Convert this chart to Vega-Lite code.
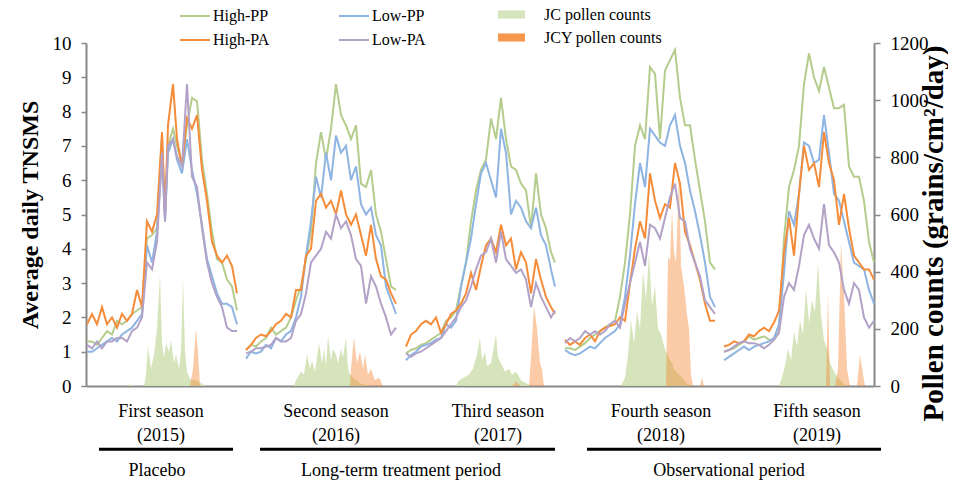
{
"$schema":"https://vega.github.io/schema/vega-lite/v6.json",
"background":"white",
"padding":{"left":18,"top":0,"right":0,"bottom":0},
"bounds":"flush",
"config":{"font":"Liberation Serif","view":{"stroke":null},"concat":{"spacing":0},"axis":{"grid":false,"labelColor":"black","titleColor":"black","labelFont":"Liberation Serif","titleFont":"Liberation Serif"},"legend":{"labelFont":"Liberation Serif","labelColor":"black"}},
"datasets":{
"tnsms":[
{"s":1,"t":1,"High-PP":1.3,"Low-PP":1.0,"High-PA":1.8,"Low-PA":1.2},
{"s":1,"t":6,"High-PP":1.3,"Low-PP":1.0,"High-PA":2.1,"Low-PA":1.1},
{"s":1,"t":11,"High-PP":1.2,"Low-PP":1.1,"High-PA":1.8,"Low-PA":1.3},
{"s":1,"t":16,"High-PP":1.4,"Low-PP":1.2,"High-PA":2.3,"Low-PA":1.1},
{"s":1,"t":21,"High-PP":1.6,"Low-PP":1.3,"High-PA":1.8,"Low-PA":1.3},
{"s":1,"t":26,"High-PP":1.5,"Low-PP":1.4,"High-PA":2.0,"Low-PA":1.3},
{"s":1,"t":31,"High-PP":1.9,"Low-PP":1.3,"High-PA":1.7,"Low-PA":1.4},
{"s":1,"t":36,"High-PP":1.8,"Low-PP":1.5,"High-PA":2.1,"Low-PA":1.4},
{"s":1,"t":41,"High-PP":1.9,"Low-PP":1.6,"High-PA":1.9,"Low-PA":1.3},
{"s":1,"t":46,"High-PP":2.1,"Low-PP":1.7,"High-PA":2.1,"Low-PA":1.6},
{"s":1,"t":51,"High-PP":2.2,"Low-PP":1.9,"High-PA":2.8,"Low-PA":1.7},
{"s":1,"t":56,"High-PP":2.3,"Low-PP":2.1,"High-PA":2.3,"Low-PA":2.0},
{"s":1,"t":61,"High-PP":4.3,"Low-PP":4.1,"High-PA":4.8,"Low-PA":3.6},
{"s":1,"t":66,"High-PP":4.4,"Low-PP":3.6,"High-PA":4.5,"Low-PA":3.4},
{"s":1,"t":71,"High-PP":4.6,"Low-PP":4.5,"High-PA":5.0,"Low-PA":4.2},
{"s":1,"t":76,"High-PP":7.3,"Low-PP":6.7,"High-PA":7.4,"Low-PA":6.8},
{"s":1,"t":79,"High-PP":5.0,"Low-PP":4.8,"High-PA":5.0,"Low-PA":4.8},
{"s":1,"t":82,"High-PP":7.0,"Low-PP":6.8,"High-PA":7.6,"Low-PA":7.0},
{"s":1,"t":87,"High-PP":7.5,"Low-PP":7.2,"High-PA":8.8,"Low-PA":7.2},
{"s":1,"t":91,"High-PP":7.0,"Low-PP":6.6,"High-PA":7.2,"Low-PA":6.7},
{"s":1,"t":96,"High-PP":6.5,"Low-PP":6.2,"High-PA":6.4,"Low-PA":6.4},
{"s":1,"t":101,"High-PP":7.6,"Low-PP":7.2,"High-PA":7.8,"Low-PA":8.8},
{"s":1,"t":106,"High-PP":8.4,"Low-PP":6.3,"High-PA":7.5,"Low-PA":6.1},
{"s":1,"t":111,"High-PP":8.3,"Low-PP":5.6,"High-PA":7.9,"Low-PA":5.8},
{"s":1,"t":116,"High-PP":6.6,"Low-PP":4.7,"High-PA":6.3,"Low-PA":4.6},
{"s":1,"t":121,"High-PP":5.6,"Low-PP":3.7,"High-PA":5.4,"Low-PA":3.6},
{"s":1,"t":126,"High-PP":4.5,"Low-PP":3.2,"High-PA":4.2,"Low-PA":3.0},
{"s":1,"t":131,"High-PP":3.7,"Low-PP":2.7,"High-PA":3.8,"Low-PA":2.6},
{"s":1,"t":136,"High-PP":3.6,"Low-PP":2.4,"High-PA":3.6,"Low-PA":2.3},
{"s":1,"t":141,"High-PP":3.1,"Low-PP":2.4,"High-PA":3.8,"Low-PA":1.7},
{"s":1,"t":146,"High-PP":2.9,"Low-PP":2.3,"High-PA":3.5,"Low-PA":1.6},
{"s":1,"t":151,"High-PP":2.2,"Low-PP":1.8,"High-PA":2.7,"Low-PA":1.6},
{"s":2,"t":160,"High-PP":1.05,"Low-PP":0.8,"High-PA":1.05,"Low-PA":0.95},
{"s":2,"t":165,"High-PP":1.2,"Low-PP":1.0,"High-PA":1.2,"Low-PA":1.0},
{"s":2,"t":170,"High-PP":1.15,"Low-PP":0.95,"High-PA":1.4,"Low-PA":1.1},
{"s":2,"t":175,"High-PP":1.3,"Low-PP":1.0,"High-PA":1.5,"Low-PA":1.1},
{"s":2,"t":180,"High-PP":1.4,"Low-PP":1.2,"High-PA":1.45,"Low-PA":1.15},
{"s":2,"t":185,"High-PP":1.7,"Low-PP":1.1,"High-PA":1.6,"Low-PA":1.2},
{"s":2,"t":190,"High-PP":1.5,"Low-PP":1.4,"High-PA":1.8,"Low-PA":1.4},
{"s":2,"t":195,"High-PP":1.6,"Low-PP":1.3,"High-PA":1.9,"Low-PA":1.3},
{"s":2,"t":200,"High-PP":1.7,"Low-PP":1.5,"High-PA":2.1,"Low-PA":1.3},
{"s":2,"t":205,"High-PP":2.0,"Low-PP":1.6,"High-PA":2.0,"Low-PA":1.4},
{"s":2,"t":210,"High-PP":2.5,"Low-PP":2.0,"High-PA":2.8,"Low-PA":1.9},
{"s":2,"t":215,"High-PP":2.9,"Low-PP":2.6,"High-PA":2.8,"Low-PA":2.1},
{"s":2,"t":220,"High-PP":3.7,"Low-PP":3.8,"High-PA":3.8,"Low-PA":2.7},
{"s":2,"t":225,"High-PP":4.5,"Low-PP":4.8,"High-PA":4.0,"Low-PA":3.6},
{"s":2,"t":230,"High-PP":6.5,"Low-PP":6.1,"High-PA":5.4,"Low-PA":3.8},
{"s":2,"t":235,"High-PP":7.4,"Low-PP":5.5,"High-PA":5.6,"Low-PA":4.0},
{"s":2,"t":240,"High-PP":6.6,"Low-PP":6.8,"High-PA":5.2,"Low-PA":4.5},
{"s":2,"t":245,"High-PP":7.5,"Low-PP":6.0,"High-PA":5.4,"Low-PA":4.3},
{"s":2,"t":250,"High-PP":8.8,"Low-PP":7.3,"High-PA":5.0,"Low-PA":5.0},
{"s":2,"t":255,"High-PP":7.9,"Low-PP":6.8,"High-PA":5.7,"Low-PA":4.6},
{"s":2,"t":260,"High-PP":7.6,"Low-PP":7.0,"High-PA":5.0,"Low-PA":4.8},
{"s":2,"t":265,"High-PP":7.2,"Low-PP":6.0,"High-PA":4.7,"Low-PA":4.4},
{"s":2,"t":270,"High-PP":7.6,"Low-PP":6.4,"High-PA":5.0,"Low-PA":3.7},
{"s":2,"t":275,"High-PP":5.9,"Low-PP":5.3,"High-PA":4.4,"Low-PA":3.5},
{"s":2,"t":280,"High-PP":5.8,"Low-PP":5.0,"High-PA":3.8,"Low-PA":2.4},
{"s":2,"t":285,"High-PP":6.3,"Low-PP":5.2,"High-PA":4.7,"Low-PA":3.2},
{"s":2,"t":290,"High-PP":5.0,"Low-PP":4.4,"High-PA":3.7,"Low-PA":2.9},
{"s":2,"t":295,"High-PP":4.5,"Low-PP":4.1,"High-PA":3.2,"Low-PA":2.4},
{"s":2,"t":300,"High-PP":3.7,"Low-PP":2.9,"High-PA":3.1,"Low-PA":2.0},
{"s":2,"t":305,"High-PP":2.9,"Low-PP":2.5,"High-PA":2.7,"Low-PA":1.5},
{"s":2,"t":310,"High-PP":2.8,"Low-PP":2.1,"High-PA":2.4,"Low-PA":1.7},
{"s":3,"t":320,"High-PP":0.95,"Low-PP":0.75,"High-PA":1.15,"Low-PA":0.95},
{"s":3,"t":325,"High-PP":1.05,"Low-PP":0.9,"High-PA":1.5,"Low-PA":0.85},
{"s":3,"t":330,"High-PP":1.1,"Low-PP":1.0,"High-PA":1.6,"Low-PA":0.95},
{"s":3,"t":335,"High-PP":1.2,"Low-PP":1.15,"High-PA":1.8,"Low-PA":1.0},
{"s":3,"t":340,"High-PP":1.25,"Low-PP":1.2,"High-PA":1.9,"Low-PA":1.1},
{"s":3,"t":345,"High-PP":1.35,"Low-PP":1.25,"High-PA":1.8,"Low-PA":1.2},
{"s":3,"t":350,"High-PP":1.45,"Low-PP":1.35,"High-PA":2.0,"Low-PA":1.3},
{"s":3,"t":355,"High-PP":1.55,"Low-PP":1.4,"High-PA":1.55,"Low-PA":1.4},
{"s":3,"t":360,"High-PP":1.9,"Low-PP":1.8,"High-PA":1.8,"Low-PA":1.6},
{"s":3,"t":365,"High-PP":2.0,"Low-PP":1.7,"High-PA":2.1,"Low-PA":1.8},
{"s":3,"t":370,"High-PP":2.2,"Low-PP":1.9,"High-PA":2.2,"Low-PA":2.0},
{"s":3,"t":375,"High-PP":2.9,"Low-PP":2.9,"High-PA":2.4,"Low-PA":2.3},
{"s":3,"t":380,"High-PP":3.6,"Low-PP":3.6,"High-PA":2.7,"Low-PA":2.5},
{"s":3,"t":385,"High-PP":4.8,"Low-PP":4.3,"High-PA":3.3,"Low-PA":2.9},
{"s":3,"t":390,"High-PP":5.7,"Low-PP":5.3,"High-PA":2.8,"Low-PA":3.4},
{"s":3,"t":395,"High-PP":6.3,"Low-PP":6.2,"High-PA":3.5,"Low-PA":3.8},
{"s":3,"t":400,"High-PP":6.6,"Low-PP":6.5,"High-PA":4.1,"Low-PA":3.9},
{"s":3,"t":405,"High-PP":7.8,"Low-PP":6.0,"High-PA":4.3,"Low-PA":4.3},
{"s":3,"t":410,"High-PP":7.2,"Low-PP":5.5,"High-PA":3.9,"Low-PA":3.6},
{"s":3,"t":415,"High-PP":8.4,"Low-PP":7.5,"High-PA":4.7,"Low-PA":4.5},
{"s":3,"t":420,"High-PP":7.2,"Low-PP":6.8,"High-PA":4.1,"Low-PA":3.7},
{"s":3,"t":425,"High-PP":6.4,"Low-PP":5.0,"High-PA":4.3,"Low-PA":3.5},
{"s":3,"t":430,"High-PP":6.3,"Low-PP":5.4,"High-PA":3.4,"Low-PA":3.3},
{"s":3,"t":435,"High-PP":5.9,"Low-PP":5.2,"High-PA":3.9,"Low-PA":3.4},
{"s":3,"t":440,"High-PP":5.7,"Low-PP":4.8,"High-PA":3.6,"Low-PA":3.1},
{"s":3,"t":445,"High-PP":4.6,"Low-PP":4.6,"High-PA":2.7,"Low-PA":2.3},
{"s":3,"t":450,"High-PP":6.2,"Low-PP":5.2,"High-PA":3.7,"Low-PA":3.0},
{"s":3,"t":455,"High-PP":5.0,"Low-PP":4.4,"High-PA":3.1,"Low-PA":2.6},
{"s":3,"t":460,"High-PP":4.6,"Low-PP":4.1,"High-PA":2.6,"Low-PA":2.3},
{"s":3,"t":465,"High-PP":3.9,"Low-PP":3.4,"High-PA":2.3,"Low-PA":2.0},
{"s":3,"t":469,"High-PP":3.6,"Low-PP":2.9,"High-PA":2.1,"Low-PA":2.2},
{"s":4,"t":479,"High-PP":1.1,"Low-PP":1.05,"High-PA":1.35,"Low-PA":1.25},
{"s":4,"t":484,"High-PP":1.1,"Low-PP":0.95,"High-PA":1.2,"Low-PA":1.4},
{"s":4,"t":489,"High-PP":1.05,"Low-PP":0.9,"High-PA":1.3,"Low-PA":1.3},
{"s":4,"t":494,"High-PP":1.15,"Low-PP":0.95,"High-PA":1.2,"Low-PA":1.4},
{"s":4,"t":499,"High-PP":1.25,"Low-PP":1.05,"High-PA":1.4,"Low-PA":1.6},
{"s":4,"t":504,"High-PP":1.4,"Low-PP":1.15,"High-PA":1.5,"Low-PA":1.5},
{"s":4,"t":509,"High-PP":1.5,"Low-PP":1.1,"High-PA":1.3,"Low-PA":1.6},
{"s":4,"t":514,"High-PP":1.6,"Low-PP":1.25,"High-PA":1.6,"Low-PA":1.5},
{"s":4,"t":519,"High-PP":1.7,"Low-PP":1.4,"High-PA":1.7,"Low-PA":1.6},
{"s":4,"t":524,"High-PP":1.8,"Low-PP":1.5,"High-PA":1.75,"Low-PA":1.8},
{"s":4,"t":529,"High-PP":1.9,"Low-PP":1.6,"High-PA":1.8,"Low-PA":1.9},
{"s":4,"t":534,"High-PP":2.6,"Low-PP":1.8,"High-PA":2.0,"Low-PA":1.7},
{"s":4,"t":539,"High-PP":3.6,"Low-PP":2.6,"High-PA":1.9,"Low-PA":2.4},
{"s":4,"t":544,"High-PP":5.0,"Low-PP":3.8,"High-PA":3.0,"Low-PA":3.0},
{"s":4,"t":549,"High-PP":7.0,"Low-PP":5.3,"High-PA":4.0,"Low-PA":3.6},
{"s":4,"t":554,"High-PP":7.6,"Low-PP":6.5,"High-PA":4.8,"Low-PA":4.2},
{"s":4,"t":559,"High-PP":7.2,"Low-PP":5.8,"High-PA":4.3,"Low-PA":3.5},
{"s":4,"t":564,"High-PP":9.3,"Low-PP":7.5,"High-PA":6.2,"Low-PA":4.7},
{"s":4,"t":569,"High-PP":9.1,"Low-PP":7.3,"High-PA":5.4,"Low-PA":4.6},
{"s":4,"t":574,"High-PP":7.2,"Low-PP":7.1,"High-PA":4.9,"Low-PA":4.3},
{"s":4,"t":579,"High-PP":9.2,"Low-PP":7.0,"High-PA":5.3,"Low-PA":4.9},
{"s":4,"t":584,"High-PP":9.5,"Low-PP":7.6,"High-PA":5.2,"Low-PA":5.5},
{"s":4,"t":589,"High-PP":9.8,"Low-PP":7.9,"High-PA":6.5,"Low-PA":5.9},
{"s":4,"t":594,"High-PP":8.4,"Low-PP":7.0,"High-PA":5.9,"Low-PA":4.9},
{"s":4,"t":599,"High-PP":7.6,"Low-PP":6.5,"High-PA":4.5,"Low-PA":4.8},
{"s":4,"t":604,"High-PP":7.6,"Low-PP":5.7,"High-PA":4.1,"Low-PA":4.0},
{"s":4,"t":609,"High-PP":6.6,"Low-PP":5.1,"High-PA":3.6,"Low-PA":3.6},
{"s":4,"t":614,"High-PP":5.7,"Low-PP":4.4,"High-PA":3.1,"Low-PA":3.2},
{"s":4,"t":619,"High-PP":4.8,"Low-PP":3.6,"High-PA":2.4,"Low-PA":2.5},
{"s":4,"t":624,"High-PP":3.6,"Low-PP":2.6,"High-PA":1.9,"Low-PA":2.3},
{"s":4,"t":629,"High-PP":3.4,"Low-PP":2.3,"High-PA":1.9,"Low-PA":2.1},
{"s":5,"t":638,"High-PP":1.0,"Low-PP":0.75,"High-PA":1.15,"Low-PA":1.0},
{"s":5,"t":643,"High-PP":1.05,"Low-PP":0.85,"High-PA":1.2,"Low-PA":1.05},
{"s":5,"t":648,"High-PP":1.1,"Low-PP":0.95,"High-PA":1.3,"Low-PA":1.15},
{"s":5,"t":653,"High-PP":1.2,"Low-PP":1.05,"High-PA":1.25,"Low-PA":1.25},
{"s":5,"t":658,"High-PP":1.3,"Low-PP":1.15,"High-PA":1.3,"Low-PA":1.3},
{"s":5,"t":663,"High-PP":1.45,"Low-PP":1.05,"High-PA":1.5,"Low-PA":1.25},
{"s":5,"t":668,"High-PP":1.35,"Low-PP":1.15,"High-PA":1.45,"Low-PA":1.25},
{"s":5,"t":673,"High-PP":1.4,"Low-PP":1.2,"High-PA":1.6,"Low-PA":1.2},
{"s":5,"t":678,"High-PP":1.45,"Low-PP":1.25,"High-PA":1.7,"Low-PA":1.1},
{"s":5,"t":683,"High-PP":1.35,"Low-PP":1.3,"High-PA":1.6,"Low-PA":1.2},
{"s":5,"t":688,"High-PP":1.35,"Low-PP":1.4,"High-PA":1.85,"Low-PA":1.35},
{"s":5,"t":693,"High-PP":1.6,"Low-PP":1.8,"High-PA":2.2,"Low-PA":1.55},
{"s":5,"t":698,"High-PP":4.3,"Low-PP":3.3,"High-PA":3.9,"Low-PA":2.6},
{"s":5,"t":703,"High-PP":5.8,"Low-PP":5.1,"High-PA":4.9,"Low-PA":3.0},
{"s":5,"t":708,"High-PP":6.3,"Low-PP":4.7,"High-PA":3.8,"Low-PA":2.8},
{"s":5,"t":713,"High-PP":7.0,"Low-PP":5.6,"High-PA":5.6,"Low-PA":3.5},
{"s":5,"t":718,"High-PP":8.8,"Low-PP":7.1,"High-PA":7.0,"Low-PA":4.4},
{"s":5,"t":723,"High-PP":9.7,"Low-PP":7.0,"High-PA":6.3,"Low-PA":4.7},
{"s":5,"t":728,"High-PP":9.0,"Low-PP":6.5,"High-PA":6.5,"Low-PA":4.3},
{"s":5,"t":733,"High-PP":8.6,"Low-PP":6.6,"High-PA":5.8,"Low-PA":4.0},
{"s":5,"t":738,"High-PP":9.3,"Low-PP":7.9,"High-PA":7.4,"Low-PA":5.3},
{"s":5,"t":743,"High-PP":8.7,"Low-PP":6.8,"High-PA":6.5,"Low-PA":4.1},
{"s":5,"t":748,"High-PP":8.1,"Low-PP":5.6,"High-PA":6.0,"Low-PA":3.9},
{"s":5,"t":753,"High-PP":8.1,"Low-PP":5.4,"High-PA":4.7,"Low-PA":3.6},
{"s":5,"t":758,"High-PP":8.2,"Low-PP":4.8,"High-PA":5.6,"Low-PA":2.8},
{"s":5,"t":763,"High-PP":6.4,"Low-PP":4.2,"High-PA":4.6,"Low-PA":2.4},
{"s":5,"t":768,"High-PP":6.1,"Low-PP":3.6,"High-PA":3.8,"Low-PA":3.0},
{"s":5,"t":773,"High-PP":6.1,"Low-PP":3.5,"High-PA":3.6,"Low-PA":2.8},
{"s":5,"t":778,"High-PP":5.4,"Low-PP":3.4,"High-PA":3.4,"Low-PA":2.0},
{"s":5,"t":783,"High-PP":4.2,"Low-PP":2.8,"High-PA":3.4,"Low-PA":1.7},
{"s":5,"t":788,"High-PP":3.6,"Low-PP":2.4,"High-PA":3.1,"Low-PA":1.9}
],
"pollen":[
{"t":0,"jc":0,"jcy":0},{"t":40,"jc":0,"jcy":0},{"t":43,"jc":5,"jcy":0},{"t":50,"jc":0,"jcy":0},{"t":58,"jc":0,"jcy":0},
{"t":60,"jc":40,"jcy":0},{"t":62,"jc":140,"jcy":0},{"t":65,"jc":60,"jcy":0},{"t":68,"jc":110,"jcy":0},{"t":71,"jc":200,"jcy":0},
{"t":74,"jc":390,"jcy":0},{"t":76,"jc":150,"jcy":0},{"t":78,"jc":100,"jcy":0},{"t":80,"jc":150,"jcy":0},{"t":83,"jc":120,"jcy":0},
{"t":85,"jc":160,"jcy":0},{"t":88,"jc":80,"jcy":0},{"t":90,"jc":110,"jcy":0},{"t":93,"jc":60,"jcy":0},{"t":95,"jc":120,"jcy":0},
{"t":97,"jc":380,"jcy":0},{"t":99,"jc":120,"jcy":0},{"t":101,"jc":50,"jcy":0},{"t":104,"jc":25,"jcy":0},{"t":107,"jc":20,"jcy":60},
{"t":110,"jc":20,"jcy":200},{"t":112,"jc":15,"jcy":120},{"t":114,"jc":12,"jcy":0},{"t":120,"jc":0,"jcy":0},
{"t":208,"jc":0,"jcy":0},{"t":210,"jc":20,"jcy":0},{"t":215,"jc":50,"jcy":0},{"t":218,"jc":40,"jcy":0},{"t":221,"jc":110,"jcy":0},
{"t":224,"jc":60,"jcy":0},{"t":226,"jc":90,"jcy":0},{"t":229,"jc":50,"jcy":0},{"t":233,"jc":150,"jcy":0},{"t":236,"jc":80,"jcy":0},
{"t":238,"jc":130,"jcy":0},{"t":240,"jc":70,"jcy":0},{"t":242,"jc":175,"jcy":0},{"t":245,"jc":90,"jcy":0},{"t":247,"jc":130,"jcy":0},
{"t":250,"jc":110,"jcy":0},{"t":252,"jc":80,"jcy":0},{"t":255,"jc":130,"jcy":0},{"t":257,"jc":100,"jcy":0},{"t":260,"jc":170,"jcy":0},
{"t":262,"jc":60,"jcy":0},{"t":264,"jc":40,"jcy":0},{"t":265,"jc":40,"jcy":60},{"t":268,"jc":25,"jcy":170},{"t":271,"jc":20,"jcy":80},
{"t":274,"jc":10,"jcy":120},{"t":277,"jc":5,"jcy":60},{"t":279,"jc":5,"jcy":110},{"t":282,"jc":0,"jcy":40},{"t":285,"jc":0,"jcy":60},
{"t":289,"jc":0,"jcy":20},{"t":293,"jc":0,"jcy":30},{"t":297,"jc":0,"jcy":0},
{"t":370,"jc":0,"jcy":0},{"t":373,"jc":20,"jcy":0},{"t":378,"jc":30,"jcy":0},{"t":383,"jc":40,"jcy":0},{"t":387,"jc":60,"jcy":0},
{"t":391,"jc":110,"jcy":0},{"t":394,"jc":170,"jcy":0},{"t":396,"jc":90,"jcy":0},{"t":399,"jc":120,"jcy":0},{"t":401,"jc":70,"jcy":0},
{"t":405,"jc":80,"jcy":0},{"t":407,"jc":120,"jcy":0},{"t":410,"jc":180,"jcy":0},{"t":412,"jc":100,"jcy":0},{"t":415,"jc":80,"jcy":0},
{"t":419,"jc":50,"jcy":0},{"t":423,"jc":60,"jcy":0},{"t":426,"jc":40,"jcy":0},{"t":430,"jc":50,"jcy":15},{"t":435,"jc":20,"jcy":0},
{"t":440,"jc":10,"jcy":0},{"t":443,"jc":5,"jcy":0},{"t":445,"jc":0,"jcy":100},{"t":448,"jc":0,"jcy":280},{"t":451,"jc":0,"jcy":200},
{"t":454,"jc":0,"jcy":80},{"t":456,"jc":0,"jcy":60},{"t":458,"jc":0,"jcy":0},
{"t":535,"jc":0,"jcy":0},{"t":539,"jc":30,"jcy":0},{"t":542,"jc":110,"jcy":0},{"t":545,"jc":230,"jcy":0},{"t":548,"jc":150,"jcy":0},
{"t":551,"jc":260,"jcy":0},{"t":554,"jc":200,"jcy":0},{"t":557,"jc":400,"jcy":0},{"t":560,"jc":300,"jcy":0},{"t":563,"jc":460,"jcy":0},
{"t":566,"jc":280,"jcy":0},{"t":569,"jc":350,"jcy":0},{"t":572,"jc":200,"jcy":0},{"t":575,"jc":180,"jcy":0},{"t":578,"jc":140,"jcy":0},
{"t":580,"jc":120,"jcy":0},{"t":582,"jc":110,"jcy":450},{"t":584,"jc":90,"jcy":440},{"t":586,"jc":80,"jcy":620},{"t":588,"jc":60,"jcy":470},
{"t":590,"jc":50,"jcy":430},{"t":593,"jc":40,"jcy":750},{"t":595,"jc":35,"jcy":420},{"t":598,"jc":20,"jcy":350},{"t":601,"jc":10,"jcy":250},
{"t":603,"jc":5,"jcy":200},{"t":605,"jc":0,"jcy":40},{"t":607,"jc":0,"jcy":0},{"t":614,"jc":0,"jcy":0},{"t":616,"jc":0,"jcy":30},{"t":618,"jc":0,"jcy":0},
{"t":693,"jc":0,"jcy":0},{"t":696,"jc":30,"jcy":0},{"t":699,"jc":70,"jcy":0},{"t":702,"jc":130,"jcy":0},{"t":705,"jc":90,"jcy":0},
{"t":708,"jc":190,"jcy":0},{"t":711,"jc":140,"jcy":0},{"t":714,"jc":230,"jcy":0},{"t":717,"jc":180,"jcy":0},{"t":720,"jc":340,"jcy":0},
{"t":723,"jc":220,"jcy":0},{"t":726,"jc":300,"jcy":0},{"t":729,"jc":260,"jcy":0},{"t":732,"jc":430,"jcy":0},{"t":735,"jc":250,"jcy":0},
{"t":738,"jc":160,"jcy":0},{"t":740,"jc":140,"jcy":0},{"t":742,"jc":120,"jcy":330},{"t":744,"jc":80,"jcy":0},{"t":749,"jc":45,"jcy":0},
{"t":752,"jc":30,"jcy":60},{"t":755,"jc":20,"jcy":500},{"t":758,"jc":5,"jcy":320},{"t":761,"jc":0,"jcy":60},{"t":764,"jc":0,"jcy":0},
{"t":771,"jc":0,"jcy":0},{"t":774,"jc":0,"jcy":110},{"t":777,"jc":0,"jcy":40},{"t":779,"jc":0,"jcy":0},{"t":788,"jc":0,"jcy":0}
],
"labels":[
{"t":75,"lvl":1.04,"label":"First season"},{"t":75,"lvl":2.04,"label":"(2015)"},
{"t":250,"lvl":1.04,"label":"Second season"},{"t":250,"lvl":2.04,"label":"(2016)"},
{"t":412,"lvl":1.04,"label":"Third season"},{"t":412,"lvl":2.04,"label":"(2017)"},
{"t":575,"lvl":1.04,"label":"Fourth season"},{"t":575,"lvl":2.04,"label":"(2018)"},
{"t":731,"lvl":1.04,"label":"Fifth season"},{"t":731,"lvl":2.04,"label":"(2019)"},
{"t":71,"lvl":3.44,"label":"Placebo"},{"t":315,"lvl":3.44,"label":"Long-term treatment period"},{"t":643,"lvl":3.44,"label":"Observational period"}
],
"periods":[
{"t1":13,"t2":147,"lvl":2.56},{"t1":174,"t2":469,"lvl":2.56},{"t1":501,"t2":795,"lvl":2.56}
]
},
"vconcat":[
{
"width":788,"height":343,
"layer":[
{"data":{"name":"pollen"},
"layer":[
{"mark":{"type":"area","opacity":0.9},
"encoding":{
"x":{"field":"t","type":"quantitative","scale":{"domain":[0,788],"nice":false,"zero":false},"axis":{"labels":false,"ticks":false,"title":null,"domainColor":"#888888","domainWidth":2}},
"y":{"field":"jc","type":"quantitative","scale":{"domain":[0,1200],"nice":false},"axis":{"orient":"right","format":"d","title":"Pollen counts (grains/cm²/day)","titleFontSize":29,"titleFontWeight":"bold","titleAngle":270,"titleBaseline":"bottom","titlePadding":20,"titleY":190,"labelFontSize":19,"labelPadding":10,"values":[0,200,400,600,800,1000,1200],"tickSize":6,"tickColor":"#888888","tickWidth":1.5,"domainColor":"#888888","domainWidth":2}},
"fill":{"datum":"JC pollen counts","type":"nominal","scale":{"domain":["JC pollen counts","JCY pollen counts"],"range":["#d2e1b4","#f58c3a"]},
"legend":{"title":null,"orient":"none","legendX":411,"legendY":-43,"padding":0,"symbolSize":729,"symbolType":"M-1,-0.3H1V0.3H-1Z","labelFontSize":16,"labelOffset":18,"rowPadding":-7,
"encode":{"symbols":{"update":{
"shape":{"signal":"datum.value === 'JC pollen counts' ? 'M-1,-0.3H1V0.3H-1Z' : 'M-1,-0.1L-0.8,-0.3M-1,0.1L-0.6,-0.3M-1,0.3L-0.4,-0.3M-0.8,0.3L-0.2,-0.3M-0.6,0.3L0,-0.3M-0.4,0.3L0.2,-0.3M-0.2,0.3L0.4,-0.3M0,0.3L0.6,-0.3M0.2,0.3L0.8,-0.3M0.4,0.3L1,-0.3M0.6,0.3L1,-0.1M0.8,0.3L1,0.1'"},
"fill":{"signal":"datum.value === 'JC pollen counts' ? '#cfdfb0' : 'transparent'"},
"stroke":{"signal":"datum.value === 'JC pollen counts' ? 'transparent' : '#f58c3a'"},
"strokeWidth":{"value":1.3},
"opacity":{"value":1}}}}}}
}},
{"mark":{"type":"area","fillOpacity":0.45},
"encoding":{
"x":{"field":"t","type":"quantitative","scale":{"domain":[0,788],"nice":false,"zero":false},"axis":{"labels":false,"ticks":false,"title":null,"domainColor":"#888888","domainWidth":2}},
"y":{"field":"jcy","type":"quantitative","scale":{"domain":[0,1200],"nice":false},"axis":{"orient":"right","format":"d","title":"Pollen counts (grains/cm²/day)","titleFontSize":29,"titleFontWeight":"bold","titleAngle":270,"titleBaseline":"bottom","titlePadding":20,"titleY":190,"labelFontSize":19,"labelPadding":10,"values":[0,200,400,600,800,1000,1200],"tickSize":6,"tickColor":"#888888","tickWidth":1.5,"domainColor":"#888888","domainWidth":2}},
"fill":{"datum":"JCY pollen counts","type":"nominal"}
}}
]},
{"data":{"name":"tnsms"},
"transform":[{"fold":["High-PP","Low-PP","High-PA","Low-PA"],"as":["series","v"]}],
"mark":{"type":"line","strokeWidth":2},
"encoding":{
"x":{"field":"t","type":"quantitative","scale":{"domain":[0,788],"nice":false,"zero":false},"axis":{"labels":false,"ticks":false,"title":null,"domainColor":"#888888","domainWidth":2}},
"y":{"field":"v","type":"quantitative","scale":{"domain":[0,10],"nice":false},"axis":{"orient":"left","title":"Average daily TNSMS","titleFontSize":24,"titleFontWeight":"bold","titlePadding":10,"labelFontSize":19,"labelPadding":10,"values":[0,1,2,3,4,5,6,7,8,9,10],"tickSize":5,"tickColor":"#888888","tickWidth":1.5,"domainColor":"#888888","domainWidth":2}},
"stroke":{"field":"series","type":"nominal","scale":{"domain":["High-PP","High-PA","Low-PP","Low-PA"],"range":["#b5cd8c","#f58c3a","#8db4e2","#b3a2c7"]},
"legend":{"title":null,"orient":"none","legendX":93,"legendY":-43,"padding":0,"columns":2,"columnPadding":65,"symbolType":"stroke","symbolSize":900,"symbolStrokeWidth":2,"labelFontSize":16,"labelOffset":2,"rowPadding":-7}},
"detail":{"field":"s","type":"nominal"}
}}
],
"resolve":{"scale":{"y":"independent"}}
},
{
"width":788,"height":99,
"layer":[
{"data":{"name":"labels"},
"mark":{"type":"text","fontSize":18,"font":"Liberation Serif","color":"black","baseline":"middle","align":"center"},
"encoding":{
"x":{"field":"t","type":"quantitative","scale":{"domain":[0,788],"nice":false,"zero":false},"axis":null},
"y":{"field":"lvl","type":"quantitative","scale":{"domain":[0,4],"reverse":true,"nice":false},"axis":null},
"text":{"field":"label","type":"nominal"}
}},
{"data":{"name":"periods"},
"mark":{"type":"rule","strokeWidth":3,"color":"black"},
"encoding":{
"x":{"field":"t1","type":"quantitative","scale":{"domain":[0,788],"nice":false,"zero":false},"axis":null},
"x2":{"field":"t2"},
"y":{"field":"lvl","type":"quantitative","scale":{"domain":[0,4],"reverse":true,"nice":false},"axis":null}
}}
]
}
]
}
